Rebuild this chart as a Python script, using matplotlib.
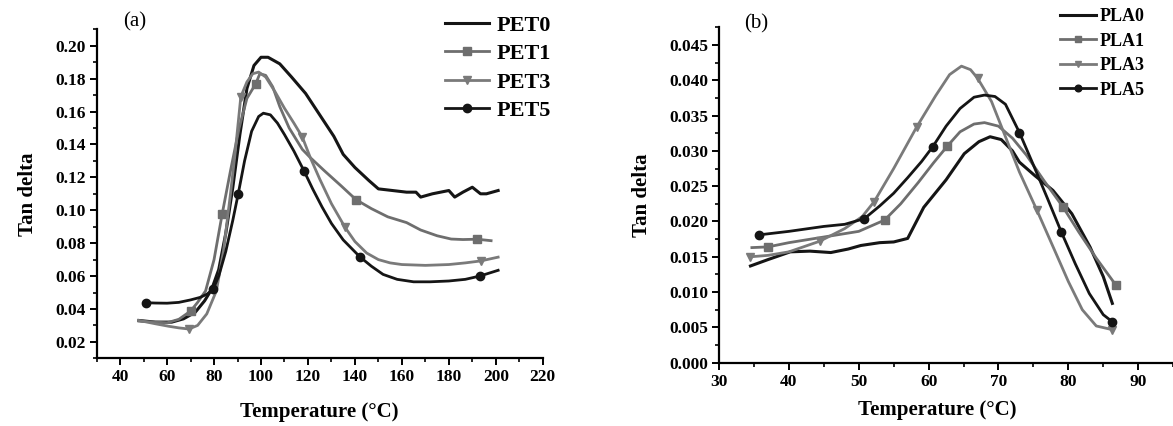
import matplotlib
matplotlib.use("Agg")
import matplotlib.pyplot as plt
from matplotlib.ticker import MultipleLocator, FormatStrFormatter

plt.rcParams['font.family'] = ['Liberation Serif', 'DejaVu Serif']
plt.rcParams['font.weight'] = 'bold'

# ---- (a) PET ----
pet0_x = [48, 55, 62, 67, 72, 76, 79, 82, 85, 88, 91, 94, 97, 100, 103, 108, 113, 119, 125,
          131, 135, 140, 146, 150, 156, 162, 166, 168, 173, 180, 182.5, 186, 190, 193.5, 196, 201]
pet0_y = [0.033, 0.032, 0.032, 0.034, 0.038, 0.045, 0.052, 0.064, 0.086, 0.114, 0.146, 0.174,
          0.188, 0.193, 0.193, 0.189, 0.181, 0.171, 0.158, 0.145, 0.134, 0.126, 0.118, 0.113,
          0.112, 0.111, 0.111, 0.108, 0.110, 0.112, 0.108, 0.111, 0.114, 0.110, 0.110, 0.112]

pet1_x = [48, 55, 60, 65, 70, 73, 76.4, 80, 83.5, 87, 90.7, 94, 97.8, 99.5, 102, 105, 108, 112,
          117.6, 121, 127, 134, 140.5, 147, 154, 162, 168, 175, 181, 186, 192, 198]
pet1_y = [0.0326, 0.032, 0.0316, 0.0337, 0.0387, 0.044, 0.051, 0.070, 0.098, 0.124, 0.150,
          0.168, 0.177, 0.183, 0.182, 0.175, 0.163, 0.150, 0.137, 0.132, 0.124, 0.115, 0.1064,
          0.101, 0.096, 0.0925, 0.088, 0.0845, 0.0825, 0.0822, 0.0824, 0.0815]
pet1_marks = [4, 8, 12, 22, 30]

pet3_x = [48, 55, 60.6, 65, 69.3, 73, 76.9, 81, 84, 87, 89, 91.4, 94, 96.5, 99, 102, 106, 110,
          114, 117.6, 121, 125, 130, 135.8, 140, 145, 150, 155, 160, 170, 180, 187, 193.6, 201]
pet3_y = [0.033, 0.031, 0.0295, 0.0285, 0.0278, 0.030, 0.037, 0.051, 0.075, 0.110, 0.135,
          0.169, 0.178, 0.183, 0.184, 0.181, 0.172, 0.162, 0.153, 0.1445, 0.132, 0.119, 0.104,
          0.0896, 0.081, 0.074, 0.070, 0.068, 0.067, 0.0665, 0.067, 0.068, 0.0692, 0.0715]
pet3_marks = [4, 11, 19, 23, 32]

pet5_x = [51, 55, 60, 65, 70, 74, 77, 79.6, 82, 85, 88, 90.3, 93, 96, 99, 101, 104, 107, 110,
          114, 118.4, 122, 126, 130, 135, 142.1, 147, 152, 158, 165, 172, 180, 187, 193.2, 201]
pet5_y = [0.0438, 0.0436, 0.0435, 0.044, 0.0455, 0.047, 0.049, 0.052, 0.060, 0.075, 0.094,
          0.110, 0.130, 0.148, 0.157, 0.159, 0.158, 0.153, 0.146, 0.136, 0.1237, 0.113, 0.102,
          0.092, 0.082, 0.0717, 0.066, 0.061, 0.058, 0.0565, 0.0565, 0.057, 0.058, 0.060, 0.0635]
pet5_marks = [0, 7, 11, 20, 25, 33]

# ---- (b) PLA ----
pla0_x = [34.5, 37, 40.2, 43, 46, 48.5, 50.3, 53, 55, 57, 59.3, 62.5, 65.1, 67.2, 68.8, 70.4,
          72, 73, 75.2, 77.8, 80.5, 83.1, 85, 86.3]
pla0_y = [0.0137, 0.0146, 0.0157, 0.0158, 0.0156, 0.0161, 0.0166, 0.0170, 0.0171, 0.0176,
          0.0220, 0.0259, 0.0296, 0.0313, 0.0320, 0.0316, 0.0300, 0.0284, 0.0265, 0.0244,
          0.0211, 0.0164, 0.0122, 0.0084]

pla1_x = [34.7, 37, 40, 45, 50, 53.7, 56, 58.5, 60.7, 62.7, 64.5, 66.5, 68, 70, 72, 74, 76.5,
          79.2, 81.5, 84, 86.8]
pla1_y = [0.0163, 0.0164, 0.0170, 0.0178, 0.0186, 0.0202, 0.0225, 0.0255, 0.0283, 0.0307,
          0.0327, 0.0338, 0.0340, 0.0335, 0.0318, 0.0294, 0.0258, 0.0221, 0.0185, 0.0148, 0.0110]
pla1_marks = [1, 5, 9, 17, 20]

pla3_x = [34.5, 37, 40, 44.4, 48, 50.5, 52.2, 55, 58.3, 61, 63, 64.7, 66, 67, 69, 71, 73, 75.5,
          78, 80, 82, 84, 86.2]
pla3_y = [0.0150, 0.0152, 0.0157, 0.0172, 0.0190, 0.0207, 0.0228, 0.0275, 0.0334, 0.0378,
          0.0408, 0.0420, 0.0415, 0.0403, 0.0370, 0.0320, 0.0270, 0.0216, 0.0160, 0.0115,
          0.0075, 0.0052, 0.0047]
pla3_marks = [0, 3, 6, 8, 13, 17, 22]

pla5_x = [35.7, 40, 45, 48, 50.8, 53, 55, 57, 59, 60.6, 62.5, 64.5, 66.5, 68, 69.5, 71, 73, 75,
          77, 79, 81, 83, 85, 86.3]
pla5_y = [0.0181, 0.0186, 0.0193, 0.0196, 0.0204, 0.0222, 0.0240, 0.0262, 0.0285, 0.0306,
          0.0335, 0.0360, 0.0376, 0.0379, 0.0377, 0.0366, 0.0326, 0.0280, 0.0233, 0.0185,
          0.0140, 0.0098, 0.0068, 0.0058]
pla5_marks = [0, 4, 9, 16, 19, 23]

black = "#151515"
gray1 = "#6e6e6e"
gray3 = "#7a7a7a"

fig = plt.figure(figsize=(11.73, 4.26), dpi=100)
ax1 = fig.add_axes([0.0824, 0.1589, 0.3803, 0.7723])
ax2 = fig.add_axes([0.613, 0.1486, 0.3871, 0.7873])


def style_axes(ax):
    for s in ("top", "right"):
        ax.spines[s].set_visible(False)
    for s in ("left", "bottom"):
        ax.spines[s].set_linewidth(1.6)
    ax.tick_params(which="major", direction="out", length=5, width=1.4, labelsize=12.5, pad=3)
    ax.tick_params(which="minor", direction="out", length=3, width=1.2)
    for lab in ax.get_xticklabels() + ax.get_yticklabels():
        lab.set_fontweight("bold")


ax1.plot(pet0_x, pet0_y, color=black, lw=2.2, label="PET0")
ax1.plot(pet1_x, pet1_y, color=gray1, lw=2.0, marker="s", ms=6, markevery=pet1_marks, label="PET1")
ax1.plot(pet3_x, pet3_y, color=gray3, lw=2.0, marker="v", ms=6, markevery=pet3_marks, label="PET3")
ax1.plot(pet5_x, pet5_y, color=black, lw=2.0, marker="o", ms=6, markevery=pet5_marks, label="PET5")
ax1.set_xlim(30, 220)
ax1.set_ylim(0.01, 0.21)
ax1.set_xticks([40, 60, 80, 100, 120, 140, 160, 180, 200, 220])
ax1.xaxis.set_minor_locator(MultipleLocator(10))
ax1.set_yticks([0.02, 0.04, 0.06, 0.08, 0.10, 0.12, 0.14, 0.16, 0.18, 0.20])
ax1.yaxis.set_minor_locator(MultipleLocator(0.01))
ax1.yaxis.set_major_formatter(FormatStrFormatter("%.2f"))
style_axes(ax1)
ax1.set_xlabel("Temperature (\u00b0C)", fontsize=15, fontweight="bold", labelpad=12)
ax1.set_ylabel("Tan delta", fontsize=15, fontweight="bold", labelpad=12)
fig.text(135 / 1173, 1 - 22 / 426, "(a)", fontsize=15, fontweight="normal", ha="center", va="center")
ax1.legend(loc="upper left", bbox_to_anchor=(445 / 1173, 1 - 15 / 426),
           bbox_transform=fig.transFigure, frameon=False,
           prop={"weight": "bold", "size": 16}, handlelength=2.0, handletextpad=0.3,
           labelspacing=0.36, borderpad=0, borderaxespad=0)

ax2.plot(pla0_x, pla0_y, color=black, lw=2.2, label="PLA0")
ax2.plot(pla1_x, pla1_y, color=gray1, lw=2.0, marker="s", ms=6, markevery=pla1_marks, label="PLA1")
ax2.plot(pla3_x, pla3_y, color=gray3, lw=2.0, marker="v", ms=6, markevery=pla3_marks, label="PLA3")
ax2.plot(pla5_x, pla5_y, color=black, lw=2.0, marker="o", ms=6, markevery=pla5_marks, label="PLA5")
ax2.set_xlim(30, 95)
ax2.set_ylim(0, 0.0475)
ax2.set_xticks([30, 40, 50, 60, 70, 80, 90])
ax2.xaxis.set_minor_locator(MultipleLocator(5))
ax2.set_yticks([0.000, 0.005, 0.010, 0.015, 0.020, 0.025, 0.030, 0.035, 0.040, 0.045])
ax2.yaxis.set_minor_locator(MultipleLocator(0.0025))
ax2.yaxis.set_major_formatter(FormatStrFormatter("%.3f"))
style_axes(ax2)
ax2.set_xlabel("Temperature (\u00b0C)", fontsize=15, fontweight="bold")
ax2.xaxis.set_label_coords(0.48, -0.112)
ax2.set_ylabel("Tan delta", fontsize=15, fontweight="bold", labelpad=12)
fig.text(756 / 1173, 1 - 24 / 426, "(b)", fontsize=15, fontweight="normal", ha="center", va="center")
ax2.legend(loc="upper left", bbox_to_anchor=(1060 / 1173, 1 - 8 / 426),
           bbox_transform=fig.transFigure, frameon=False,
           prop={"weight": "bold", "size": 13}, handlelength=2.0, handletextpad=0.2,
           labelspacing=0.42, borderpad=0, borderaxespad=0, markerscale=0.8)

fig.savefig("out.png", dpi=100)
